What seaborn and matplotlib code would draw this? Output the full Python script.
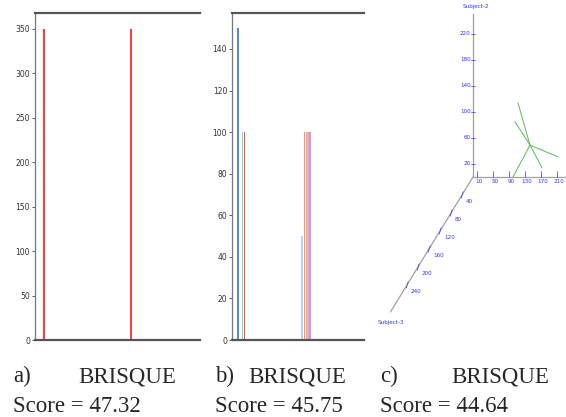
import matplotlib
matplotlib.use("Agg")
import matplotlib.pyplot as plt
import seaborn as sns
import pandas as pd

# panel a: histogram bins and counts
a_bins = [0, 1]
a_counts = [350, 350]
a_colors = ["#ff3b3b", "#ff3b3b"]
a_yticks = [0, 50, 100, 150, 200, 250, 300, 350]

# panel b: histogram bins and counts
b_bins = [6, 10.5, 12.5, 70, 72.5, 74.5, 76, 78]
b_counts = [150, 100, 100, 50, 100, 100, 100, 100]
b_colors = ["#4a90d0", "#8fd68f", "#ee5050", "#b8d4ea",
            "#ff9a3c", "#f5b0a0", "#f2a6c4", "#c0a0e0"]
b_yticks = [0, 20, 40, 60, 80, 100, 120, 140]

# panel c: 3d scatter of three subjects (s1, s2, s3)
c_s1_ticks = [10, 50, 90, 130, 170, 210]
c_s2_ticks = [20, 60, 100, 140, 180, 220]
c_s3_ticks = [40, 80, 120, 160, 200, 240]
c_center = (142.5, 49, 0)
c_tips_s1 = [112.5, 105, 212.5, 172.5, 100]
c_tips_s2 = [114, 85, 31, 14, 0]
c_tips_s3 = [0, 0, 0, 0, 0]

captions = [("a)", "BRISQUE", "Score = 47.32"),
            ("b)", "BRISQUE", "Score = 45.75"),
            ("c)", "BRISQUE", "Score = 44.64")]

sns.set_style("white")
plt.rcParams["font.family"] = ["DejaVu Sans"]

W, H = 566, 417
fig = plt.figure(figsize=(W / 100, H / 100), dpi=100)


def px_axes(x0, y0, x1, y1):
    return fig.add_axes([x0 / W, 1 - y1 / H, (x1 - x0) / W, (y1 - y0) / H])


def hist_panel(ax, bins, counts, colors, yticks, xlim, ylim, width):
    df = pd.DataFrame({"bin": bins, "count": counts, "c": colors})
    sns.barplot(data=df, x="bin", y="count", hue="c",
                palette={c: c for c in colors}, native_scale=True,
                dodge=False, width=width, saturation=1, linewidth=0,
                legend=False, ax=ax)
    ax.set_xlim(*xlim)
    ax.set_ylim(*ylim)
    ax.set_yticks(yticks)
    ax.set_xticks([])
    ax.set_xlabel("")
    ax.set_ylabel("")
    ax.tick_params(axis="y", labelsize=5.5, labelcolor="#333333",
                   length=2, width=0.6, color="#444444", pad=1.5, left=True)
    ax.spines["right"].set_visible(False)
    ax.spines["top"].set_color("#555555")
    ax.spines["top"].set_linewidth(1.6)
    ax.spines["bottom"].set_color("#555555")
    ax.spines["bottom"].set_linewidth(1.6)
    ax.spines["left"].set_color("#777777")
    ax.spines["left"].set_linewidth(0.9)


ax_a = px_axes(35, 13, 200, 340)
hist_panel(ax_a, a_bins, a_counts, a_colors, a_yticks,
           (-0.103, 1.793), (0, 368), 0.019)

ax_b = px_axes(232, 13, 364, 340)
hist_panel(ax_b, b_bins, b_counts, b_colors, b_yticks,
           (0, 132), (0, 157.3), 0.95)

# panel c: oblique projection of the 3d axes
ax_c = px_axes(370, 0, 566, 345)
pa, pb = -0.6875, -0.692


def proj(s1, s2, s3):
    return s1 + pa * s3, s2 + pb * s3


axis_col = "#a0a0a0"
lab_col = "#3535ff"
fs = 4.1
ax_c.plot(*zip(proj(0, 0, 0), proj(0, 250, 0)), color=axis_col, lw=0.9)
ax_c.plot(*zip(proj(0, 0, 0), proj(240, 0, 0)), color=axis_col, lw=0.9)
ax_c.plot(*zip(proj(0, 0, 0), proj(0, 0, 300)), color=axis_col, lw=0.9)

for t in c_s2_ticks:
    u, v = proj(0, t, 0)
    ax_c.plot([u - 4, u + 4], [v, v], color=lab_col, lw=0.5)
    ax_c.text(u - 6, v, str(t), color=lab_col, fontsize=fs, ha="right", va="center")
for t in c_s1_ticks:
    u, v = proj(t, 0, 0)
    ax_c.plot([u, u], [v, v + 9], color=lab_col, lw=0.5)
    ax_c.text(u + 5, v - 3, str(t), color=lab_col, fontsize=fs, ha="center", va="top")
for t in c_s3_ticks:
    u, v = proj(0, 0, t)
    ax_c.plot([u - 2, u + 3], [v - 5, v + 5], color=lab_col, lw=0.5)
    ax_c.text(u + 10, v - 6, str(t), color=lab_col, fontsize=fs, ha="left", va="top")

u, v = proj(0, 262, 0)
ax_c.text(u + 8, v, "Subject-2", color=lab_col, fontsize=fs, ha="center", va="center")
u, v = proj(0, 0, 300)
ax_c.text(u + 2, v - 16, "Subject-3", color=lab_col, fontsize=fs, ha="center", va="center")

seg = []
for i, (s1, s2, s3) in enumerate(zip(c_tips_s1, c_tips_s2, c_tips_s3)):
    for p in (c_center, (s1, s2, s3)):
        u, v = proj(*p)
        seg.append({"u": u, "v": v, "seg": i})
seg = pd.DataFrame(seg)
sns.lineplot(data=seg, x="u", y="v", units="seg", estimator=None, sort=False,
             color="#6cc06c", lw=0.8, ax=ax_c)
ax_c.set_xlim(-257.5, 232.5)
ax_c.set_ylim(-258.5, 272.3)
ax_c.axis("off")

# captions
serif = ["Liberation Serif", "DejaVu Serif"]
lefts = [13, 215, 380]
label_x = [78, 248, 451]
for (tag, name, score), x0, x1 in zip(captions, lefts, label_x):
    fig.text(x0 / W, 1 - 382 / H, tag, family=serif, fontsize=16.5, va="baseline")
    fig.text(x1 / W, 1 - 382 / H, name, family=serif, fontsize=16.5, va="baseline")
    fig.text(x0 / W, 1 - 412 / H, score, family=serif, fontsize=16.5, va="baseline")

fig.savefig("out.png", dpi=100)
